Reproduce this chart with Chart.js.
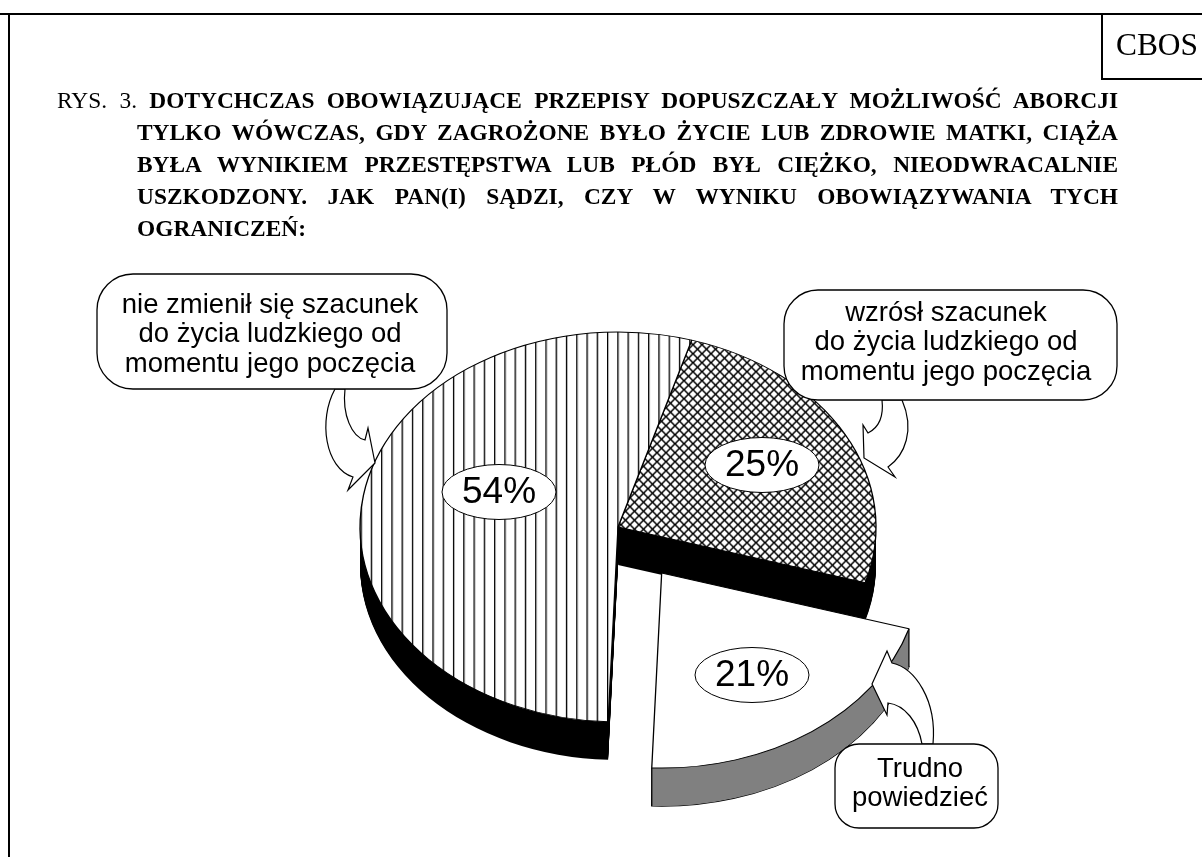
<!DOCTYPE html>
<html lang="pl">
<head>
<meta charset="utf-8">
<title>CBOS</title>
<script src="https://cdn.jsdelivr.net/npm/chart.js@4/dist/chart.umd.js"></script>
<style>
  html, body { margin: 0; padding: 0; background: #fff; width: 1202px; height: 857px; overflow: hidden; }
  canvas { position: absolute; left: 0; top: 0; }
  .rule { position: absolute; background: #000; }
  #cbos { position: absolute; left: 1103px; top: 27px; width: 110px; padding-left: 13px; box-sizing: border-box; font: 31.4px "Liberation Serif", serif; color: #000; line-height: 36px; white-space: nowrap; }
  #title { position: absolute; left: 57px; top: 84px; width: 1061px; font: bold 23.4px/32px "Liberation Serif", serif; color: #000; }
  #title div { text-align: justify; text-align-last: justify; padding-left: 80px; }
  #title div:first-child { padding-left: 0; }
  #title div:last-child { text-align-last: left; }
  #title span { font-weight: normal; }
</style>
</head>
<body>
<canvas id="pie" width="1202" height="857"></canvas>
<div class="rule" style="left:0;top:13px;width:1202px;height:2px"></div>
<div class="rule" style="left:8px;top:13px;width:2px;height:844px"></div>
<div class="rule" style="left:1101px;top:13px;width:2px;height:67px"></div>
<div class="rule" style="left:1101px;top:78px;width:101px;height:2px"></div>
<div id="cbos">CBOS</div>
<div id="title">
  <div><span>RYS. 3.</span> DOTYCHCZAS OBOWIĄZUJĄCE PRZEPISY DOPUSZCZAŁY MOŻLIWOŚĆ ABORCJI</div>
  <div>TYLKO WÓWCZAS, GDY ZAGROŻONE BYŁO ŻYCIE LUB ZDROWIE MATKI, CIĄŻA</div>
  <div>BYŁA WYNIKIEM PRZESTĘPSTWA LUB PŁÓD BYŁ CIĘŻKO, NIEODWRACALNIE</div>
  <div>USZKODZONY. JAK PAN(I) SĄDZI, CZY W WYNIKU OBOWIĄZYWANIA TYCH</div>
  <div>OGRANICZEŃ:</div>
</div>
<script>
const categories = [
  "wzrósł szacunek do życia ludzkiego od momentu jego poczęcia",
  "Trudno powiedzieć",
  "nie zmienił się szacunek do życia ludzkiego od momentu jego poczęcia",
];
const values = [25, 21, 54];
const explode = [0, 75, 0];
const wallColors = ["#000", "#808080", "#000"];

// callout text, one entry per slice
const calloutLines = [
  ["wzrósł szacunek", "do życia ludzkiego od", "momentu jego poczęcia"],
  ["Trudno", "powiedzieć"],
  ["nie zmienił się szacunek", "do życia ludzkiego od", "momentu jego poczęcia"],
];

const tilt = 195 / 258;
const depth = 38;

// x, y, w, h, radius of each callout box
const calloutBoxes = [
  [784, 290, 333, 110, 34],
  [835, 744, 163, 84, 24],
  [97, 274, 350, 115, 36],
];
const calloutTextCentre = [[946, 313], [920, 769], [270, 305]];
const percentBubbles = [[762, 465], [752, 675], [499, 492]];

function stripePattern(ctx) {
  const c = document.createElement("canvas");
  c.width = 10;
  c.height = 10;
  const g = c.getContext("2d");
  g.fillStyle = "#fff";
  g.fillRect(0, 0, 10, 10);
  g.fillStyle = "#000";
  g.fillRect(1, 0, 1.3, 10);
  const p = ctx.createPattern(c, "repeat");
  p.setTransform(new DOMMatrix().scale(1.027, 1 / tilt));
  return p;
}

function hatchPattern(ctx) {
  const c = document.createElement("canvas");
  c.width = 9;
  c.height = 9;
  const g = c.getContext("2d");
  g.fillStyle = "#fff";
  g.fillRect(0, 0, 9, 9);
  g.strokeStyle = "#000";
  g.lineWidth = 1.5;
  g.beginPath();
  g.moveTo(-2, -2);
  g.lineTo(11, 11);
  g.moveTo(11, -2);
  g.lineTo(-2, 11);
  g.stroke();
  const p = ctx.createPattern(c, "repeat");
  p.setTransform(new DOMMatrix().scale(1, 1 / tilt));
  return p;
}

function applyTilt(ctx, chart, drop) {
  const cx = (chart.chartArea.left + chart.chartArea.right) / 2;
  const cy = (chart.chartArea.top + chart.chartArea.bottom) / 2;
  ctx.translate(cx, cy + drop);
  ctx.scale(1, tilt);
  ctx.translate(-cx, -cy);
}

function sectorPath(ctx, arc) {
  ctx.beginPath();
  ctx.moveTo(arc.x, arc.y);
  ctx.arc(arc.x, arc.y, arc.outerRadius, arc.startAngle, arc.endAngle);
  ctx.closePath();
}

const pie3d = {
  id: "pie3d",
  afterDatasetUpdate(chart) {
    // library "offset" grows the radius rather than moving a slice, so shift it here
    chart.getDatasetMeta(0).data.forEach((arc, i) => {
      const mid = (arc.startAngle + arc.endAngle) / 2;
      arc.x += Math.cos(mid) * explode[i];
      arc.y += Math.sin(mid) * explode[i];
    });
  },
  beforeDatasetsDraw(chart) {
    const ctx = chart.ctx;
    const arcs = chart.getDatasetMeta(0).data;
    const order = arcs.map((a, i) => i).sort((a, b) => explode[a] - explode[b]);
    order.forEach((i) => {
      const arc = arcs[i];
      if (explode[i]) {
        ctx.save();
        applyTilt(ctx, chart, depth);
        sectorPath(ctx, arc);
        ctx.restore();
        ctx.strokeStyle = "#000";
        ctx.lineWidth = 1.3;
        ctx.stroke();
      }
      for (let d = depth; d > 0; d--) {
        ctx.save();
        applyTilt(ctx, chart, d);
        sectorPath(ctx, arc);
        ctx.fillStyle = wallColors[i];
        ctx.fill();
        ctx.restore();
      }
      if (explode[i]) {
        [arc.startAngle, arc.endAngle].forEach((a) => {
          const ex = arc.x + Math.cos(a) * arc.outerRadius;
          const cy = (chart.chartArea.top + chart.chartArea.bottom) / 2;
          const ey = cy + (arc.y - cy + Math.sin(a) * arc.outerRadius) * tilt;
          ctx.beginPath();
          ctx.moveTo(ex, ey);
          ctx.lineTo(ex, ey + depth);
          ctx.strokeStyle = "#000";
          ctx.lineWidth = 1.3;
          ctx.stroke();
        });
      }
    });
    ctx.save();
    applyTilt(ctx, chart, 0);
  },
  afterDatasetsDraw(chart) {
    chart.ctx.restore();
  },
  afterDraw(chart) {
    const ctx = chart.ctx;
    ctx.save();
    ctx.fillStyle = "#fff";
    ctx.strokeStyle = "#000";
    ctx.lineWidth = 1.2;

    // curved arrows from the callouts to the slices
    ctx.beginPath();
    ctx.moveTo(335, 389);
    ctx.bezierCurveTo(318, 420, 325, 468, 353, 477);
    ctx.lineTo(348, 490);
    ctx.lineTo(375, 463);
    ctx.lineTo(368, 428);
    ctx.lineTo(365, 440);
    ctx.bezierCurveTo(352, 437, 342, 415, 345, 389);
    ctx.closePath();
    ctx.fill();
    ctx.stroke();

    ctx.beginPath();
    ctx.moveTo(882, 400);
    ctx.bezierCurveTo(884, 418, 878, 428, 868, 433);
    ctx.lineTo(863, 425);
    ctx.lineTo(864, 458);
    ctx.lineTo(895, 477);
    ctx.lineTo(888, 467);
    ctx.bezierCurveTo(905, 455, 915, 430, 902, 400);
    ctx.closePath();
    ctx.fill();
    ctx.stroke();

    ctx.beginPath();
    ctx.moveTo(922, 744);
    ctx.bezierCurveTo(918, 722, 905, 705, 888, 703);
    ctx.lineTo(887, 715);
    ctx.lineTo(872, 684);
    ctx.lineTo(887, 651);
    ctx.lineTo(892, 663);
    ctx.bezierCurveTo(915, 668, 937, 700, 933, 744);
    ctx.closePath();
    ctx.fill();
    ctx.stroke();

    // percent bubbles
    ctx.textAlign = "center";
    ctx.textBaseline = "middle";
    values.forEach((v, i) => {
      const [x, y] = percentBubbles[i];
      ctx.beginPath();
      ctx.ellipse(x, y, 57, 27.5, 0, 0, Math.PI * 2);
      ctx.fillStyle = "#fff";
      ctx.fill();
      ctx.lineWidth = 1;
      ctx.stroke();
      ctx.fillStyle = "#000";
      ctx.font = '37px "Liberation Sans", sans-serif';
      ctx.fillText(v + "%", x, y + 1);
    });

    // callout boxes
    calloutLines.forEach((lines, i) => {
      const [x, y, w, h, r] = calloutBoxes[i];
      ctx.beginPath();
      ctx.roundRect(x, y, w, h, r);
      ctx.fillStyle = "#fff";
      ctx.fill();
      ctx.lineWidth = 1.3;
      ctx.stroke();
      ctx.fillStyle = "#000";
      ctx.font = '27.5px "Liberation Sans", sans-serif';
      const [tx, ty] = calloutTextCentre[i];
      lines.forEach((line, n) => ctx.fillText(line, tx, ty + n * 29.5));
    });
    ctx.restore();
  },
};

const ctx = document.getElementById("pie").getContext("2d");
new Chart(ctx, {
  type: "pie",
  data: {
    labels: categories,
    datasets: [
      {
        data: values,
        backgroundColor: [hatchPattern(ctx), "#fff", stripePattern(ctx)],
        borderColor: "#000",
        borderWidth: 1.3,
        radius: 258,
      },
    ],
  },
  options: {
    responsive: false,
    animation: false,
    events: [],
    rotation: 16.6,
    layout: { padding: { left: 34, top: 197 } },
    plugins: {
      legend: { display: false },
      title: { display: false },
      tooltip: { enabled: false },
    },
  },
  plugins: [pie3d],
});
</script>
</body>
</html>
